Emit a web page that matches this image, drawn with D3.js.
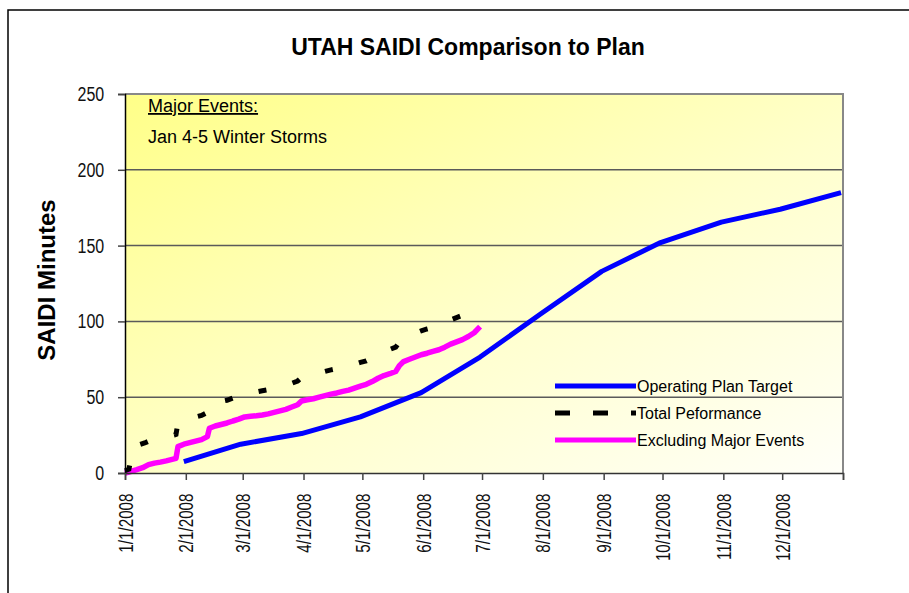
<!DOCTYPE html>
<html>
<head>
<meta charset="utf-8">
<script src="https://cdn.jsdelivr.net/npm/d3@7"></script>
<style>
body { margin: 0; background: #fff; }
svg { display: block; }
</style>
</head>
<body>
<div id="chart"></div>
<script>
// plan target, one point per month end
var planDates = ["2008-01-31","2008-02-29","2008-03-31","2008-04-30","2008-05-31","2008-06-30",
                 "2008-07-31","2008-08-31","2008-09-30","2008-10-31","2008-11-30","2008-12-31"];
var planValues = [7.5, 19, 26, 37, 53, 76.5, 105, 133, 152, 165.5, 174, 185];

// total performance (with major events)
var totalDates = ["2008-01-01","2008-01-03","2008-01-04","2008-01-05","2008-01-08","2008-01-11","2008-01-14",
  "2008-01-17","2008-01-20","2008-01-23","2008-01-26","2008-01-27","2008-01-28","2008-01-31",
  "2008-02-03","2008-02-06","2008-02-09","2008-02-12","2008-02-13","2008-02-16","2008-02-19","2008-02-22",
  "2008-02-25","2008-02-28","2008-03-02","2008-03-05","2008-03-08","2008-03-11","2008-03-14","2008-03-17",
  "2008-03-20","2008-03-23","2008-03-26","2008-03-29","2008-03-31","2008-04-03","2008-04-06","2008-04-09",
  "2008-04-12","2008-04-15","2008-04-18","2008-04-21","2008-04-24","2008-04-27","2008-04-30","2008-05-03",
  "2008-05-06","2008-05-09","2008-05-12","2008-05-15","2008-05-18","2008-05-20","2008-05-22","2008-05-25",
  "2008-05-28","2008-05-31","2008-06-03","2008-06-06","2008-06-09","2008-06-12","2008-06-15","2008-06-18",
  "2008-06-21","2008-06-24","2008-06-27","2008-06-30"];
var totalValues = [1.5, 2.5, 9, 17.5, 18.5, 19.8, 21.5, 22.5, 23.2, 24, 25, 25.5, 33.2, 34.8,
  35.8, 37, 38, 40, 45.5, 46.5, 47.2, 48, 49.5, 50.8, 52.5, 53, 53.5, 54.3, 55, 56,
  57, 58, 59.2, 60.7, 63, 64, 65, 66, 67, 68, 68.8, 69.8, 70.5, 71.8, 73, 74,
  75.8, 78, 80, 81.5, 83, 86.5, 89, 90.8, 92.3, 93.8, 95, 96, 97.3, 99, 101, 102.5,
  104, 105.5, 108, 112];

// excluding major events
var exclDates = ["2008-01-01","2008-01-04","2008-01-07","2008-01-10","2008-01-13","2008-01-16","2008-01-19",
  "2008-01-22","2008-01-25","2008-01-27","2008-01-28","2008-01-31","2008-02-03","2008-02-06","2008-02-09",
  "2008-02-12","2008-02-13","2008-02-16","2008-02-19","2008-02-22","2008-02-25","2008-02-28","2008-03-02",
  "2008-03-05","2008-03-08","2008-03-11","2008-03-14","2008-03-17","2008-03-20","2008-03-23","2008-03-26",
  "2008-03-29","2008-03-31","2008-04-03","2008-04-06","2008-04-09","2008-04-12","2008-04-15","2008-04-18",
  "2008-04-21","2008-04-24","2008-04-27","2008-04-30","2008-05-03","2008-05-06","2008-05-09","2008-05-12",
  "2008-05-15","2008-05-18","2008-05-20","2008-05-22","2008-05-25","2008-05-28","2008-05-31","2008-06-03",
  "2008-06-06","2008-06-09","2008-06-12","2008-06-15","2008-06-18","2008-06-21","2008-06-24","2008-06-27",
  "2008-06-30"];
var exclValues = [0, 1, 2.2, 3.5, 5.5, 6.5, 7.2, 8, 9, 9.7, 17.4, 19, 20, 21, 22,
  24, 29.5, 31, 32, 33, 34.3, 35.5, 37, 37.5, 37.8, 38.3, 39, 40, 41, 42, 43.5,
  45, 47.5, 48.3, 49, 50, 51, 52, 52.8, 53.8, 54.7, 56, 57.3, 58.5, 60.3, 62.5, 64.3,
  65.5, 67, 71, 73.5, 75, 76.5, 78, 79, 80.2, 81.3, 83, 85, 86.5, 88, 90, 92.5, 96.5];

var yTicks = [0, 50, 100, 150, 200, 250];
var legendNames = ["Operating Plan Target", "Total Peformance", "Excluding Major Events"];
var noteLines = ["Major Events:", "Jan 4-5 Winter Storms"];

var parseDate = d3.timeParse("%Y-%m-%d");
function zip(ds, vs) { return ds.map((d, i) => ({date: parseDate(d), value: vs[i]})); }
var plan = zip(planDates, planValues);
var total = zip(totalDates, totalValues);
var excl = zip(exclDates, exclValues);

var svgWidth = 909, svgHeight = 593;
var plotL = 125, plotR = 843, plotT = 94, plotB = 473;
var sans = "'Liberation Sans', Arial, sans-serif";

var svg = d3.select("#chart").append("svg")
    .attr("width", svgWidth)
    .attr("height", svgHeight);

// outer chart frame (runs off the right and bottom)
svg.append("rect")
    .attr("x", 8).attr("y", 10)
    .attr("width", 1000).attr("height", 1000)
    .attr("fill", "#fff")
    .attr("stroke", "#000")
    .attr("stroke-width", 1.5);

var grad = svg.append("defs").append("linearGradient")
    .attr("id", "bg")
    .attr("x1", 0).attr("y1", 0).attr("x2", 1).attr("y2", 1);
grad.append("stop").attr("offset", "0%").attr("stop-color", "#ffff88");
grad.append("stop").attr("offset", "55%").attr("stop-color", "#ffffcc");
grad.append("stop").attr("offset", "100%").attr("stop-color", "#fffff8");

var x = d3.scaleTime()
    .domain([new Date(2008, 0, 1), new Date(2009, 0, 1)])
    .range([plotL, plotR]);
var y = d3.scaleLinear()
    .domain([0, 250])
    .range([plotB, plotT]);

// plot area
svg.append("rect")
    .attr("x", plotL).attr("y", plotT)
    .attr("width", plotR - plotL).attr("height", plotB - plotT)
    .attr("fill", "url(#bg)");

// gridlines
svg.append("g").selectAll("line")
    .data(yTicks.filter(t => t > 0 && t < 250))
    .enter().append("line")
    .attr("x1", plotL).attr("x2", plotR)
    .attr("y1", d => y(d)).attr("y2", d => y(d))
    .attr("stroke", "#5a5a5a")
    .attr("stroke-width", 1.5);

// top and right border
svg.append("path")
    .attr("d", `M${plotL},${y(250)}H${plotR}V${plotB}`)
    .attr("fill", "none")
    .attr("stroke", "#888")
    .attr("stroke-width", 2);

// lines
var line = d3.line().x(d => x(d.date)).y(d => y(d.value));

svg.append("path")
    .datum(plan)
    .attr("d", line)
    .attr("fill", "none")
    .attr("stroke", "#0000ff")
    .attr("stroke-width", 5)
    .attr("stroke-linejoin", "round");

svg.append("path")
    .datum(excl)
    .attr("d", line)
    .attr("fill", "none")
    .attr("stroke", "#ff00ff")
    .attr("stroke-width", 5.5)
    .attr("stroke-linejoin", "round");

svg.append("path")
    .datum(total)
    .attr("d", line)
    .attr("fill", "none")
    .attr("stroke", "#000")
    .attr("stroke-width", 5)
    .attr("stroke-dasharray", "8 27");

// y axis (labels squeezed to look like a narrow face)
var yAxis = svg.append("g")
    .attr("transform", `translate(${plotL},0)`)
    .call(d3.axisLeft(y).tickValues(yTicks).tickSize(7).tickPadding(0));
yAxis.select(".domain").attr("stroke", "#000").attr("stroke-width", 1.5);
yAxis.selectAll(".tick line").attr("stroke", "#444").attr("stroke-width", 1.5);
yAxis.selectAll("text")
    .attr("font-family", sans)
    .attr("font-size", 20)
    .attr("fill", "#111")
    .attr("x", -26)
    .attr("transform", "scale(0.8,1)");

// x axis
var xAxis = svg.append("g")
    .attr("transform", `translate(0,${plotB})`)
    .call(d3.axisBottom(x)
        .ticks(d3.timeMonth.every(1))
        .tickSize(7)
        .tickFormat(d => d.getFullYear() === 2008 ? (d.getMonth() + 1) + "/" + d.getDate() + "/2008" : ""));
xAxis.select(".domain").attr("stroke", "#333").attr("stroke-width", 1.5);
xAxis.selectAll(".tick line").attr("stroke", "#444").attr("stroke-width", 1.5);
xAxis.selectAll("text")
    .attr("font-family", sans)
    .attr("font-size", 20)
    .attr("fill", "#111")
    .attr("transform", "rotate(-90) scale(0.76,1)")
    .attr("text-anchor", "end")
    .attr("x", -27)
    .attr("y", 0)
    .attr("dy", "0.35em");

// titles
svg.append("text")
    .attr("x", 468).attr("y", 55)
    .attr("text-anchor", "middle")
    .attr("font-family", sans)
    .attr("font-weight", "bold")
    .attr("font-size", 23)
    .text("UTAH SAIDI Comparison to Plan");

svg.append("text")
    .attr("transform", "translate(55,280) rotate(-90)")
    .attr("text-anchor", "middle")
    .attr("font-family", sans)
    .attr("font-weight", "bold")
    .attr("font-size", 24)
    .text("SAIDI Minutes");

// major events note
svg.append("text")
    .attr("x", 148).attr("y", 112)
    .attr("font-family", sans)
    .attr("font-size", 18)
    .attr("text-decoration", "underline")
    .text(noteLines[0]);
svg.append("text")
    .attr("x", 148).attr("y", 143)
    .attr("font-family", sans)
    .attr("font-size", 18)
    .text(noteLines[1]);

// legend
var legendColors = ["#0000ff", "#000", "#ff00ff"];
var legendDash = [null, "15 23", null];
var lg = svg.append("g").attr("transform", "translate(555,386)");
var item = lg.selectAll("g")
    .data(legendNames)
    .enter().append("g")
    .attr("transform", (d, i) => `translate(0,${i * 27})`);
item.append("line")
    .attr("x1", 0).attr("x2", 81)
    .attr("stroke", (d, i) => legendColors[i])
    .attr("stroke-width", 5)
    .attr("stroke-dasharray", (d, i) => legendDash[i]);
item.append("text")
    .attr("x", 82).attr("y", 6)
    .attr("font-family", sans)
    .attr("font-size", 16)
    .text(d => d);
</script>
</body>
</html>
